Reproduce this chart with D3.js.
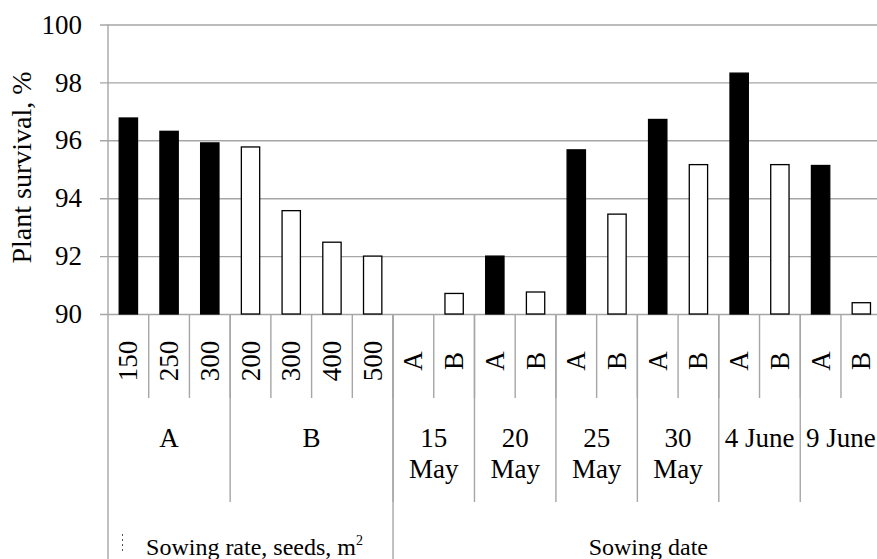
<!DOCTYPE html>
<html>
<head>
<meta charset="utf-8">
<script src="https://cdn.jsdelivr.net/npm/d3@7"></script>
<style>
  body { margin: 0; background: #fff; }
  text { font-family: "Liberation Serif", "Times New Roman", serif; fill: #000; }
</style>
</head>
<body>
<div id="chart"></div>
<script>
// data
var tickLabels = ["150", "250", "300", "200", "300", "400", "500",
    "A", "B", "A", "B", "A", "B", "A", "B", "A", "B", "A", "B"];
var survival = [96.77, 96.31, 95.91, 95.77, 93.57, 92.48, 92.0,
    90.0, 90.71, 92.0, 90.76, 95.67, 93.45, 96.72, 95.16, 98.32, 95.16, 95.13, 90.39];
var barType = ["A", "A", "A", "B", "B", "B", "B",
    "A", "B", "A", "B", "A", "B", "A", "B", "A", "B", "A", "B"];
var subGroupLabels = [["A"], ["B"], ["15", "May"], ["20", "May"], ["25", "May"], ["30", "May"], ["4 June"], ["9 June"]];
var subGroupSizes = [3, 4, 2, 2, 2, 2, 2, 2];
var mainGroupLabels = ["Sowing rate, seeds, m", "Sowing date"];
var mainGroupSizes = [7, 12];
var yTicks = [90, 92, 94, 96, 98, 100];

var svgWidth = 877;
var svgHeight = 559;
var plotLeft = 108, plotTop = 24.5, plotBottom = 314;
var bandW = 40.72;
var plotRight = plotLeft + bandW * tickLabels.length;

var svg = d3.select("#chart")
    .append("svg")
    .attr("width", svgWidth)
    .attr("height", svgHeight);

var xScale = d3.scaleBand()
    .domain(d3.range(tickLabels.length))
    .range([plotLeft, plotRight])
    .padding(0);

var yScale = d3.scaleLinear()
    .domain([90, 100])
    .range([plotBottom, plotTop]);

var grey = "#a6a6a6";

// gridlines + y tick labels
var yAxis = d3.axisLeft(yScale)
    .tickValues(yTicks)
    .tickSize(-(plotRight - plotLeft + 8))
    .tickPadding(18)
    .tickFormat(d3.format("d"));

var yg = svg.append("g")
    .attr("transform", "translate(" + (plotLeft - 8) + ",0)")
    .call(yAxis);
yg.select(".domain").remove();
yg.selectAll(".tick line").attr("stroke", grey).attr("stroke-width", 1.4);
yg.selectAll(".tick text")
    .style("font-family", "'Liberation Serif', serif")
    .style("font-size", "27px")
    .attr("fill", "#000");

// y axis title
svg.append("text")
    .attr("transform", "translate(31,167.5) rotate(-90)")
    .attr("text-anchor", "middle")
    .style("font-size", "28px")
    .text("Plant survival, %");

// bars
var barW = bandW * 0.45;
svg.selectAll("rect.bar")
    .data(survival)
    .enter()
    .append("rect")
    .attr("class", "bar")
    .attr("x", (d, i) => xScale(i) + (xScale.bandwidth() - barW) / 2)
    .attr("y", d => yScale(d))
    .attr("width", barW)
    .attr("height", d => yScale(90) - yScale(d))
    .attr("fill", (d, i) => barType[i] == "A" ? "#000" : "#fff")
    .attr("stroke", "#000")
    .attr("stroke-width", d => d > 90 ? 1.3 : 0);

// y axis line, runs down through the category area
svg.append("line")
    .attr("x1", plotLeft).attr("x2", plotLeft)
    .attr("y1", plotTop).attr("y2", svgHeight)
    .attr("stroke", grey).attr("stroke-width", 1.4);

// level 1: rotated tick labels + dividers
var lvl1End = 398, lvl2End = 502;
svg.selectAll("line.div1")
    .data(d3.range(1, tickLabels.length + 1))
    .enter()
    .append("line")
    .attr("class", "div1")
    .attr("x1", i => i < tickLabels.length ? xScale(i) : plotRight)
    .attr("x2", i => i < tickLabels.length ? xScale(i) : plotRight)
    .attr("y1", plotBottom)
    .attr("y2", lvl1End)
    .attr("stroke", grey).attr("stroke-width", 1.4);

svg.selectAll("text.lab1")
    .data(tickLabels)
    .enter()
    .append("text")
    .attr("class", "lab1")
    .attr("transform", (d, i) => "translate(" + (xScale(i) + xScale.bandwidth() / 2 + 9) + ",361) rotate(-90)")
    .attr("text-anchor", "middle")
    .style("font-size", "27px")
    .text(d => d);

// level 2 groups
var pos = 0;
subGroupSizes.forEach(function (n, g) {
    var x0 = xScale(pos);
    var x1 = pos + n < tickLabels.length ? xScale(pos + n) : plotRight;
    svg.append("line")
        .attr("x1", x1).attr("x2", x1)
        .attr("y1", plotBottom).attr("y2", lvl2End)
        .attr("stroke", grey).attr("stroke-width", 1.4);
    subGroupLabels[g].forEach(function (t, k) {
        svg.append("text")
            .attr("x", (x0 + x1) / 2)
            .attr("y", 447 + k * 31)
            .attr("text-anchor", "middle")
            .style("font-size", "27px")
            .text(t);
    });
    pos += n;
});

// level 3 groups
pos = 0;
var mainDx = [4, 11];
mainGroupSizes.forEach(function (n, g) {
    var x0 = xScale(pos);
    var x1 = pos + n < tickLabels.length ? xScale(pos + n) : plotRight;
    svg.append("line")
        .attr("x1", x1).attr("x2", x1)
        .attr("y1", plotBottom).attr("y2", svgHeight)
        .attr("stroke", grey).attr("stroke-width", 1.4);
    var t = svg.append("text")
        .attr("x", (x0 + x1) / 2 + mainDx[g])
        .attr("y", 555)
        .attr("text-anchor", "middle")
        .style("font-size", "24px")
        .text(mainGroupLabels[g]);
    if (g == 0) {
        t.append("tspan").attr("dy", -10).style("font-size", "14px").text("2");
    }
    pos += n;
});

// small dotted mark left of the first group title
svg.append("line")
    .attr("x1", 122.5).attr("x2", 122.5)
    .attr("y1", 534).attr("y2", 553)
    .attr("stroke", "#555").attr("stroke-width", 1)
    .attr("stroke-dasharray", "2,3");
</script>
</body>
</html>
